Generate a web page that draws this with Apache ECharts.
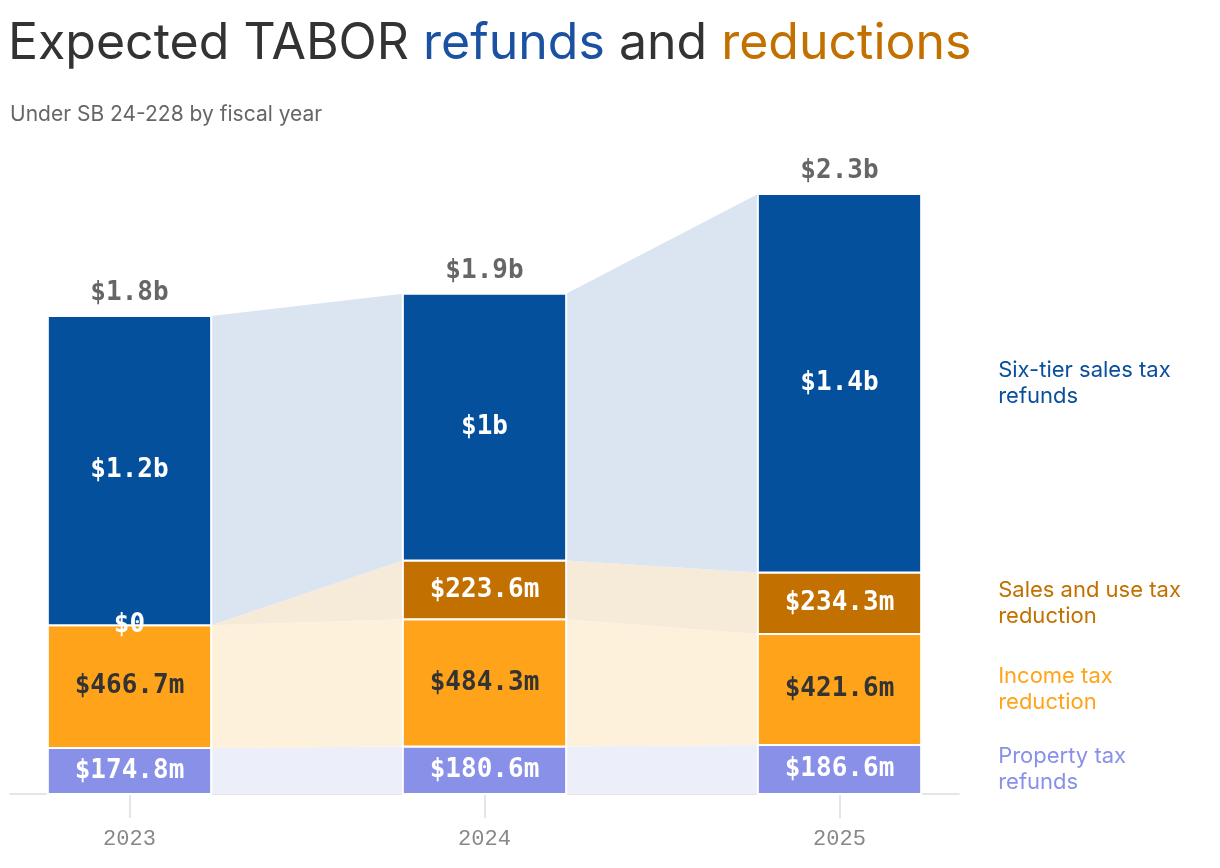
<!DOCTYPE html>
<html lang="en">
<head>
    <meta charset="UTF-8">
    <title>Expected TABOR refunds and reductions</title>
    <script src="https://cdn.jsdelivr.net/npm/echarts@6.0.0/dist/echarts.min.js"></script>
    <style>
        * { margin: 0; padding: 0; box-sizing: border-box; }
        html, body { width: 100%; height: 100%; background: #fff; overflow: hidden; }
        #chart { width: 1220px; height: 868px; }
    </style>
</head>
<body>
    <div id="chart"></div>
    <script>
        // fiscal years
        const years = [2023, 2024, 2025];
        const yearLabels = ['2023', '2024', '2025'];

        // values in millions of dollars, bottom of the stack first
        const propertyTax = [174.8, 180.6, 186.6];
        const incomeTax = [466.7, 484.3, 421.6];
        const salesUseTax = [0, 223.6, 234.3];
        const sixTierSales = [1177, 1014, 1440];

        const layerNames = ['Property tax\nrefunds', 'Income tax\nreduction', 'Sales and use tax\nreduction', 'Six-tier sales tax\nrefunds'];
        const layerValues = [propertyTax, incomeTax, salesUseTax, sixTierSales];
        const barColors = ['#8890e8', '#ffa41a', '#c27000', '#04509c'];
        const flowColors = ['#eceefa', '#fdf1dc', '#f6ead9', '#dae5f1'];
        const labelColors = ['#fff', '#333', '#fff', '#fff'];
        const legendColors = ['#8890e8', '#ffa41a', '#c27000', '#0b4f9c'];

        const BAR_W = 0.46; // bar width in years
        const MONO = '"DejaVu Sans Mono", "Liberation Mono", monospace';
        const AXIS_MONO = '"Liberation Mono", "DejaVu Sans Mono", monospace';
        const SANS = 'Inter, "Noto Sans", sans-serif';

        // stack bases
        const bases = layerValues.map(() => years.map(() => 0));
        const totals = years.map(() => 0);
        layerValues.forEach((vals, li) => {
            vals.forEach((v, i) => {
                bases[li][i] = totals[i];
                totals[i] += v;
            });
        });

        function money(v) {
            if (v === 0) return '$0';
            if (v >= 1000) {
                let s = (v / 1000).toFixed(1);
                if (s.endsWith('.0')) s = s.slice(0, -2);
                return '$' + s + 'b';
            }
            return '$' + v.toFixed(1) + 'm';
        }

        const chart = echarts.init(document.getElementById('chart'), null, { renderer: 'canvas' });

        const series = [];

        // shaded flows between the bars
        series.push({
            type: 'custom',
            z: 1,
            silent: true,
            data: years.slice(0, -1).map((y, i) => [i]),
            renderItem: function (params, api) {
                const i = api.value(0);
                const half = api.size([BAR_W, 0])[0] / 2;
                const children = layerValues.map((vals, li) => {
                    const a0 = api.coord([years[i], bases[li][i]]);
                    const a1 = api.coord([years[i], bases[li][i] + vals[i]]);
                    const b0 = api.coord([years[i + 1], bases[li][i + 1]]);
                    const b1 = api.coord([years[i + 1], bases[li][i + 1] + vals[i + 1]]);
                    return {
                        type: 'polygon',
                        shape: { points: [[a0[0] + half, a1[1]], [b0[0] - half, b1[1]], [b0[0] - half, b0[1]], [a0[0] + half, a0[1]]] },
                        style: { fill: flowColors[li] }
                    };
                });
                return { type: 'group', children: children };
            }
        });

        // stacked bar segments
        layerValues.forEach((vals, li) => {
            series.push({
                type: 'custom',
                name: layerNames[li],
                z: 3,
                data: years.map((y, i) => [y, bases[li][i], bases[li][i] + vals[i]]),
                renderItem: function (params, api) {
                    const p0 = api.coord([api.value(0), api.value(1)]);
                    const p1 = api.coord([api.value(0), api.value(2)]);
                    const half = api.size([BAR_W, 0])[0] / 2;
                    if (p0[1] - p1[1] <= 0) return null;
                    return {
                        type: 'rect',
                        shape: { x: p0[0] - half, y: p1[1], width: half * 2, height: p0[1] - p1[1] },
                        style: { fill: barColors[li], stroke: '#fff', lineWidth: 2 }
                    };
                }
            });
        });

        // value labels in the segments + right side labels
        layerValues.forEach((vals, li) => {
            series.push({
                type: 'custom',
                z: 10,
                silent: true,
                data: years.map((y, i) => [y, bases[li][i] + vals[i] / 2, vals[i], i]),
                renderItem: function (params, api) {
                    const c = api.coord([api.value(0), api.value(1)]);
                    const v = api.value(2);
                    const idx = api.value(3);
                    const half = api.size([BAR_W, 0])[0] / 2;
                    const dark = labelColors[li] !== '#fff';
                    const kids = [{
                        type: 'text',
                        x: c[0],
                        y: c[1],
                        style: {
                            text: money(v),
                            fill: labelColors[li],
                            font: 'bold 26px ' + MONO,
                            textAlign: 'center',
                            textVerticalAlign: 'middle',
                            shadowColor: dark ? 'rgba(255,255,255,0.95)' : 'rgba(0,0,0,0.8)',
                            shadowBlur: 6
                        }
                    }];
                    if (idx === years.length - 1) {
                        kids.push({
                            type: 'text',
                            x: c[0] + half + 77,
                            y: c[1],
                            style: {
                                text: layerNames[li],
                                fill: legendColors[li],
                                font: '22px ' + SANS,
                                lineHeight: 26,
                                textAlign: 'left',
                                textVerticalAlign: 'middle'
                            }
                        });
                    }
                    return { type: 'group', children: kids };
                }
            });
        });

        // totals above the bars
        series.push({
            type: 'custom',
            z: 10,
            silent: true,
            data: years.map((y, i) => [y, totals[i]]),
            renderItem: function (params, api) {
                const c = api.coord([api.value(0), api.value(1)]);
                return {
                    type: 'text',
                    x: c[0],
                    y: c[1] - 23,
                    style: {
                        text: money(api.value(1)),
                        fill: '#666',
                        font: 'bold 26px ' + MONO,
                        textAlign: 'center',
                        textVerticalAlign: 'middle'
                    }
                };
            }
        });

        const option = {
            animation: false,
            title: [{
                left: 3,
                top: 14,
                text: '{a|Expected TABOR }{b|refunds}{a| and }{c|reductions}',
                textStyle: {
                    rich: {
                        a: { fontFamily: SANS, fontSize: 50, fontWeight: 'normal', color: '#333' },
                        b: { fontFamily: SANS, fontSize: 50, fontWeight: 'normal', color: '#1a51a0' },
                        c: { fontFamily: SANS, fontSize: 50, fontWeight: 'normal', color: '#c27000' }
                    }
                }
            }, {
                left: 5,
                top: 99,
                text: 'Under SB 24-228 by fiscal year',
                textStyle: { fontFamily: SANS, fontSize: 21, fontWeight: 'normal', color: '#666' }
            }],
            grid: { left: 10, right: 261, top: 163, bottom: 74 },
            xAxis: {
                type: 'value',
                min: 2022.6634,
                max: 2025.3366,
                splitLine: { show: false },
                axisLine: { show: true, lineStyle: { color: '#ddd', width: 1.5 } },
                axisTick: { show: true, length: 24, customValues: years, lineStyle: { color: '#ddd', width: 1.5 } },
                axisLabel: {
                    customValues: years,
                    margin: 34,
                    color: '#888',
                    fontFamily: AXIS_MONO,
                    fontSize: 22,
                    formatter: function (v) { return yearLabels[years.indexOf(Math.round(v))] || ''; }
                }
            },
            yAxis: { type: 'value', min: 0, max: 2400, show: false, splitLine: { show: false } },
            series: series
        };

        chart.setOption(option);
    </script>
</body>
</html>
